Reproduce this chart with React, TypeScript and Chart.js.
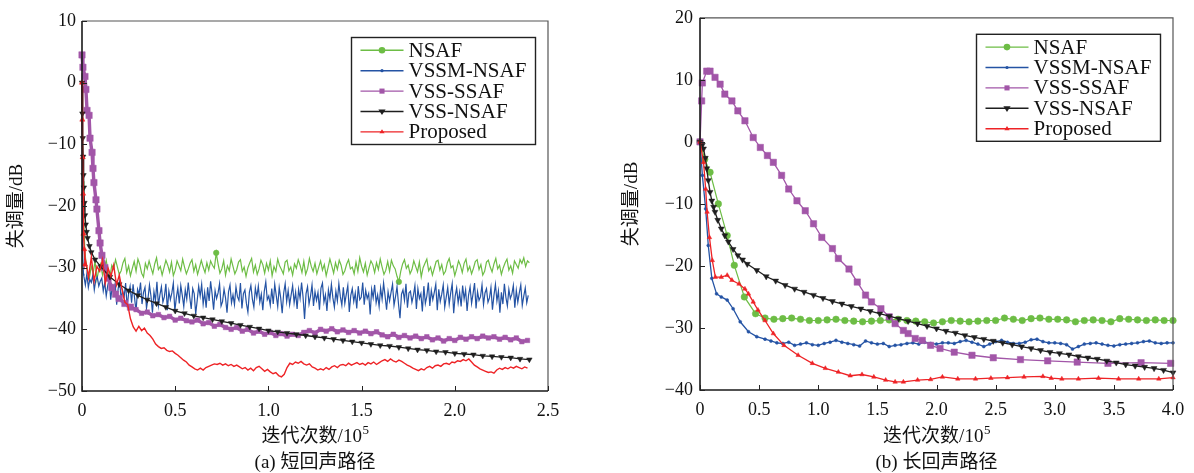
import React, { useEffect, useRef } from 'react';
import { Chart, registerables } from 'chart.js';

Chart.register(...registerables);

const SERIF = '"Liberation Serif", "DejaVu Serif", serif';
const MIXED = '"Liberation Serif", "Noto Sans CJK SC", serif';

const seriesLabels = ['NSAF', 'VSSM-NSAF', 'VSS-SSAF', 'VSS-NSAF', 'Proposed'];
const seriesColors = ['#6dbd45', '#2453a4', '#a256a8', '#1e1e1e', '#ee2326'];

// ---------------- (a) short echo path ----------------
const aXTicks = [0, 0.5, 1, 1.5, 2, 2.5];
const aXTickLabels = ['0', '0.5', '1.0', '1.5', '2.0', '2.5'];
const aYTicks = [-50, -40, -30, -20, -10, 0, 10];
const aYTickLabels = ['−50', '−40', '−30', '−20', '−10', '0', '10'];

const aGreenHeadX = [0, 0.003, 0.006, 0.01, 0.015, 0.02];
const aGreenHeadY = [0, -8, -16, -23, -27, -28.8];
const aGreenStart = 0.03;
const aGreenStep = 0.01;
const aGreenY = [
  -30.4, -31.6, -29.8, -30.9, -28.9, -31.9, -30.3, -29.4, -31.2, -30.0, -28.8, -30.7, -31.4, -29.6,
  -30.2, -28.7, -29.9, -31.1, -30.5, -29.2, -28.5, -30.8, -29.7, -31.3, -30.1, -29.0, -30.6, -28.6,
  -29.5, -30.9, -31.5, -29.3, -30.2, -28.9, -30.0, -31.0, -29.4, -28.4, -30.3, -29.8, -31.2, -30.0,
  -28.8, -29.6, -30.7, -29.1, -31.3, -30.4, -28.9, -29.7, -30.5, -28.6, -29.9, -31.0, -30.2, -29.3,
  -28.7, -30.6, -29.5, -31.1, -30.0, -28.8, -29.9, -30.8, -29.2, -30.4, -28.9, -29.6, -30.1, -27.6,
  -29.4, -30.9, -30.2, -28.9, -31.2, -29.7, -30.5, -28.6, -29.8, -31.0, -30.3, -29.1, -28.7, -30.6,
  -29.9, -31.4, -30.0, -29.2, -28.5, -30.7, -29.6, -31.1, -30.2, -28.8, -29.5, -30.9, -29.3, -30.4,
  -28.9, -31.3, -29.8, -30.6, -28.6, -29.7, -30.3, -31.0, -29.1, -28.8, -30.5, -29.9, -31.2, -29.4,
  -30.1, -28.7, -29.6, -30.8, -29.0, -31.1, -30.2, -28.5, -29.8, -30.6, -29.3, -31.0, -29.9, -28.9,
  -30.4, -29.5, -31.3, -30.0, -28.6, -29.7, -30.9, -29.2, -30.3, -28.8, -29.6, -31.1, -30.5, -29.4,
  -28.7, -30.2, -29.9, -31.0, -29.1, -30.6, -28.4, -29.8, -30.7, -29.3, -31.2, -30.0, -28.9, -29.5,
  -30.8, -29.2, -30.3, -28.6, -29.9, -31.1, -30.4, -29.0, -30.6, -28.8, -29.7, -30.2, -31.4, -32.3,
  -30.6, -29.4, -28.7, -30.1, -29.6, -31.0, -30.3, -28.9, -29.8, -30.7, -29.1, -31.5, -30.0, -29.3,
  -28.6, -30.5, -29.9, -31.2, -30.1, -29.0, -28.8, -30.4, -29.5, -31.1, -30.6, -29.2, -28.5, -30.0,
  -29.7, -31.3, -30.2, -28.9, -29.6, -30.8, -29.3, -28.6, -30.5, -29.8, -31.0, -30.1, -29.0, -28.7,
  -30.3, -29.5, -31.2, -30.6, -29.1, -28.8, -29.9, -30.7, -29.4, -28.5, -30.2, -29.6, -31.1, -30.0,
  -29.2, -28.6, -30.4, -29.7, -30.9, -28.9, -29.5, -30.1, -28.7, -29.3, -28.4, -29.8, -28.9, -29.2,
];
const aGreenMarkIdx = [75, 173];

const aBlueHeadX = [0, 0.002, 0.005, 0.008];
const aBlueHeadY = [0, -15, -28, -31];
const aBlueStart = 0.01;
const aBlueStep = 0.008;
const aBlueY = [
  -31.4, -32.8, -31.0, -33.2, -31.9, -32.4, -31.2, -33.6, -32.0, -31.5, -33.0, -32.2, -31.7,
  -33.8, -32.4, -34.6, -32.9, -31.8, -35.2, -33.1, -34.0, -32.6, -36.0, -33.4, -32.2, -35.1,
  -33.7, -34.8, -32.5, -36.4, -34.2, -33.0, -35.7, -32.7, -34.9, -37.1, -33.5, -34.3, -32.4,
  -35.9, -34.0, -33.2, -36.6, -35.0, -32.8, -34.6, -37.3, -33.9, -35.4, -32.3, -36.1, -34.4,
  -33.1, -35.6, -34.7, -32.6, -36.9, -33.8, -35.2, -34.1, -32.5, -37.0, -34.9, -33.3, -35.8,
  -32.9, -34.5, -36.3, -33.6, -35.1, -32.4, -34.8, -36.7, -33.4, -34.2, -37.5, -35.3, -33.0,
  -34.6, -32.7, -35.9, -34.0, -36.5, -33.2, -35.4, -32.2, -34.3, -36.8, -33.7, -35.0, -34.1,
  -32.6, -36.2, -35.5, -33.5, -34.9, -37.3, -33.9, -32.8, -35.7, -34.4, -36.0, -33.1, -34.7,
  -35.3, -32.5, -36.6, -34.2, -33.6, -35.8, -37.2, -34.0, -32.9, -35.1, -36.4, -33.3, -34.8,
  -33.0, -35.6, -34.3, -36.9, -33.8, -32.3, -35.2, -34.6, -36.1, -33.4, -35.9, -32.7, -34.5,
  -36.3, -33.2, -34.9, -37.4, -34.1, -32.6, -35.5, -33.7, -36.0, -34.4, -32.9, -35.7, -34.0,
  -36.7, -33.5, -35.0, -32.4, -34.8, -38.3, -34.2, -33.1, -35.9, -34.6, -32.8, -36.2, -33.9,
  -35.3, -34.0, -36.8, -33.3, -32.5, -35.6, -34.4, -37.0, -33.6, -35.1, -32.7, -34.9, -36.4,
  -33.8, -35.4, -32.6, -34.7, -36.1, -33.2, -35.8, -34.3, -32.9, -37.2, -34.5, -33.4, -35.5,
  -34.1, -36.6, -33.0, -35.2, -34.8, -32.4, -36.0, -33.7, -35.0, -34.2, -37.6, -33.5, -34.9,
  -32.8, -35.7, -34.4, -36.3, -33.3, -35.1, -32.5, -34.6, -36.8, -33.9, -35.4, -34.0, -32.7,
  -36.1, -34.7, -33.1, -35.9, -38.2, -34.3, -33.6, -35.3, -32.6, -36.5, -34.1, -33.8, -35.6,
  -34.5, -32.9, -36.7, -33.4, -35.0, -34.2, -37.1, -33.0, -35.8, -34.6, -32.4, -36.2, -33.7,
  -35.2, -34.0, -32.7, -36.9, -33.5, -35.5, -34.3, -32.8, -36.4, -34.8, -33.2, -35.9, -34.1,
  -32.6, -37.4, -34.6, -33.3, -35.7, -34.0, -36.3, -32.9, -35.1, -33.6, -37.0, -34.4, -33.1,
  -35.8, -34.2, -32.5, -36.6, -33.9, -35.3, -34.7, -32.8, -36.0, -34.1, -33.4, -35.6, -34.9,
  -33.2, -36.8, -34.5, -32.7, -35.4, -33.8, -37.3, -34.0, -35.9, -32.6, -34.8, -36.2, -33.5,
  -35.0, -34.3, -32.9, -36.5, -33.7, -35.6, -34.1, -32.8, -36.1, -34.6, -33.3, -35.7, -34.5,
];

const aPurpleHeadX = [0, 0.005, 0.016, 0.021, 0.027, 0.038, 0.043, 0.054, 0.059, 0.064, 0.075, 0.08, 0.091, 0.097, 0.107, 0.123, 0.14, 0.16, 0.18, 0.2, 0.23, 0.26];
const aPurpleHeadY = [4.5, 2.5, 1.0, -1.1, -4.5, -5.3, -9, -11.3, -13.9, -16.2, -19, -20.5, -24, -26, -28, -30, -31.7, -33.2, -34.3, -35.0, -35.8, -36.4];
const aPurpleStart = 0.29;
const aPurpleStep = 0.03;
const aPurpleY = [
  -36.8, -37.4, -37.2, -37.8, -37.6, -38.1, -37.9, -38.5, -38.2, -38.6,
  -38.8, -38.5, -39.1, -38.9, -39.5, -39.2, -39.7, -40.0, -39.7, -40.3,
  -40.0, -40.6, -40.3, -40.8, -40.5, -41.0, -40.7, -41.1, -40.8, -41.0,
  -40.5, -40.2, -40.6, -40.0, -40.3, -39.9, -40.4, -40.1, -40.5, -40.2,
  -40.6, -40.3, -40.7, -40.4, -40.9, -41.2, -40.8, -41.3, -41.0, -41.4,
  -41.1, -41.5, -41.2, -41.7, -41.4, -41.9, -41.5, -41.8, -41.3, -41.6,
  -41.2, -41.5, -41.1, -41.4, -41.2, -41.6, -41.3, -41.7, -41.4, -42.0, -41.8,
];

const aBlackX = [0, 0.002, 0.004, 0.006, 0.008, 0.01, 0.013, 0.016, 0.02, 0.025, 0.03, 0.04, 0.05, 0.07, 0.1, 0.15, 0.2, 0.25, 0.3, 0.35, 0.4, 0.45, 0.5, 0.55, 0.6, 0.65, 0.7, 0.75, 0.8, 0.85, 0.9, 0.95, 1.0, 1.05, 1.1, 1.15, 1.2, 1.25, 1.3, 1.35, 1.4, 1.45, 1.5, 1.55, 1.6, 1.65, 1.7, 1.75, 1.8, 1.85, 1.9, 1.95, 2.0, 2.05, 2.1, 2.15, 2.2, 2.25, 2.3, 2.35, 2.4];
const aBlackY = [0, -5, -9, -12, -15, -17, -19.5, -21.5, -23, -24.2, -25.2, -26.5, -27.5, -28.7, -29.8, -31.5, -32.7, -33.7, -34.5, -35.2, -35.8, -36.4, -37.0, -37.4, -37.8, -38.1, -38.4, -38.7, -39.0, -39.3, -39.6, -39.9, -40.2, -40.4, -40.6, -40.8, -41.0, -41.2, -41.4, -41.6, -41.8, -42.0, -42.2, -42.4, -42.6, -42.7, -42.9, -43.1, -43.3, -43.4, -43.6, -43.7, -43.9, -44.0, -44.1, -44.3, -44.4, -44.5, -44.6, -44.8, -44.9];

const aRedHeadX = [0, 0.002, 0.004, 0.006, 0.008, 0.012, 0.016];
const aRedHeadY = [0, -6, -12.1, -18, -24.5, -27, -29.5];
const aRedStart = 0.02;
const aRedStep = 0.015;
const aRedY = [
  -29.0, -31.6, -28.3, -32.2, -29.8, -30.6, -28.7, -32.5, -30.1, -31.4, -29.6, -32.8, -31.2, -33.6,
  -35.6, -36.0, -38.3, -39.6,
  -40.3, -39.5, -40.2, -39.8, -40.6, -41.0, -41.6, -42.4, -42.8, -43.1,
  -43.0, -43.4, -43.6, -43.5, -43.9, -44.2, -44.6, -45.0, -45.3, -45.8,
  -46.1, -46.4, -46.6, -46.3, -46.6, -46.2, -46.0, -45.8, -45.6, -45.7,
  -45.5, -45.8, -45.6, -45.9, -45.7, -46.0, -45.8, -46.1, -46.4, -46.2,
  -46.6, -46.3, -46.7, -46.2, -46.0, -46.4, -46.8, -46.5, -46.9, -47.2,
  -47.0, -47.5, -47.7, -47.3, -46.2, -45.5, -45.7, -45.3, -45.5, -45.2,
  -45.6, -45.8, -45.6, -46.1, -46.3, -46.6, -46.4, -46.6, -46.2, -46.5,
  -46.1, -45.9, -46.2, -45.8, -45.7, -45.9, -45.5, -45.8, -45.6, -45.4,
  -45.7, -45.5, -45.8, -45.4, -45.6, -45.3, -45.7, -45.4, -45.1, -44.9,
  -45.2, -44.8, -45.1, -45.3, -45.0, -45.2, -45.5, -45.8, -46.0, -46.3,
  -46.5, -46.7, -46.4, -46.6, -46.2, -46.0, -46.3, -45.9, -45.8, -46.0,
  -45.6, -45.5, -45.7, -45.3, -45.4, -45.1, -45.2, -44.9, -45.1, -44.8,
  -45.3, -45.8, -46.1, -46.4, -46.6, -46.8, -47.0, -46.9, -47.1, -46.6,
  -46.3, -46.5, -46.2, -46.4, -46.1, -46.3, -46.0, -46.2, -46.4, -46.1,
  -46.3,
];

// ---------------- (b) long echo path ----------------
const bXTicks = [0, 0.5, 1, 1.5, 2, 2.5, 3, 3.5, 4];
const bXTickLabels = ['0', '0.5', '1.0', '1.5', '2.0', '2.5', '3.0', '3.5', '4.0'];
const bYTicks = [-40, -30, -20, -10, 0, 10, 20];
const bYTickLabels = ['−40', '−30', '−20', '−10', '0', '10', '20'];

const bGreenHeadX = [0, 0.04, 0.085, 0.155, 0.23, 0.29, 0.375, 0.47];
const bGreenHeadY = [0, -2.8, -4.9, -10, -15.1, -19.9, -25, -27.7];
const bGreenStart = 0.55;
const bGreenStep = 0.075;
const bGreenY = [
  -28.4, -28.6, -28.5, -28.4, -28.6, -28.8, -28.8, -28.7, -28.6, -28.8,
  -28.9, -29.0, -28.9, -28.8, -28.7, -28.6, -28.8, -28.9, -29.0, -29.2,
  -29.0, -28.8, -28.9, -29.0, -28.9, -28.8, -28.8, -28.4, -28.6, -28.8,
  -28.5, -28.4, -28.6, -28.6, -28.7, -29.0, -28.8, -28.7, -28.8, -29.0,
  -28.5, -28.6, -28.7, -28.8, -28.7, -28.8, -28.8,
];

const bBlueHeadX = [0, 0.02, 0.048, 0.07, 0.1, 0.14, 0.18, 0.23, 0.28, 0.34, 0.41, 0.48, 0.55];
const bBlueHeadY = [0, -5.4, -10.8, -16.7, -22, -24.5, -25.0, -25.5, -26.9, -29, -30.6, -31.4, -31.8];
const bBlueStart = 0.6;
const bBlueStep = 0.05;
const bBlueY = [
  -32.1, -32.4, -32.5, -32.3, -32.8, -32.6, -32.4, -32.7, -32.8, -32.5,
  -32.3, -32.0, -32.3, -32.5, -32.7, -32.9, -32.1, -32.4, -32.6, -32.5,
  -33.0, -32.8, -32.7, -32.5, -32.4, -32.6, -32.3, -32.5, -32.6, -32.4,
  -32.4, -32.5, -32.2, -32.0, -32.3, -32.6, -33.0, -32.6, -32.2, -32.0,
  -32.3, -32.5, -32.5, -32.3, -31.9, -31.8, -32.2, -32.4, -32.4, -32.5,
  -32.7, -33.4, -33.0, -32.6, -32.5, -32.4, -32.6, -32.8, -32.9, -32.7,
  -32.6, -32.5, -32.4, -32.2, -32.1, -32.4, -32.5, -32.4, -32.4,
];

const bPurpleX = [0, 0.014, 0.02, 0.057, 0.085, 0.127, 0.17, 0.21, 0.27, 0.32, 0.38, 0.45, 0.51, 0.57, 0.62, 0.69, 0.75, 0.82, 0.89, 0.96, 1.03, 1.12, 1.17, 1.26, 1.33, 1.4, 1.45, 1.53, 1.6, 1.65, 1.72, 1.76, 1.82, 1.88, 1.95, 2.03, 2.15, 2.3, 2.48, 2.71, 2.94, 3.19, 3.45, 3.73, 3.98];
const bPurpleY = [0, 6.6, 9.5, 11.4, 11.4, 10.4, 9.3, 7.7, 6.6, 5.0, 3.4, 0.7, -0.9, -2.2, -3.3, -5.4, -7.6, -9.5, -11.1, -13.2, -15.4, -17.2, -18.8, -20.5, -22.6, -24.7, -25.8, -26.9, -28.2, -29.3, -30.4, -30.9, -31.7, -32.0, -32.8, -33.3, -33.9, -34.4, -34.8, -35.1, -35.3, -35.5, -35.7, -35.6, -35.7];

const bBlackHeadX = [0, 0.02, 0.03, 0.045, 0.057, 0.07, 0.085, 0.1, 0.115, 0.127, 0.15, 0.18, 0.21, 0.24, 0.28, 0.32, 0.36];
const bBlackHeadY = [0, -0.5, -1.1, -2.6, -4.3, -6.2, -8.1, -9.5, -10.5, -11.3, -12.6, -14, -15.1, -16.1, -17.3, -18.3, -19.0];
const bBlackStart = 0.4;
const bBlackStep = 0.08;
const bBlackY = [
  -19.7, -20.7, -21.7, -22.4, -23.1, -23.7, -24.2, -24.7, -25.2, -25.7,
  -26.1, -26.5, -26.9, -27.3, -27.7, -28.1, -28.5, -28.9, -29.3, -29.7,
  -30.1, -30.5, -30.8, -31.2, -31.5, -31.8, -32.1, -32.4, -32.7, -33.0,
  -33.3, -33.6, -33.9, -34.1, -34.3, -34.6, -34.8, -35.0, -35.3, -35.6,
  -35.9, -36.1, -36.3, -36.5, -36.8, -37.2,
];

const bRedX = [0, 0.03, 0.048, 0.06, 0.08, 0.104, 0.13, 0.18, 0.23, 0.27, 0.33, 0.38, 0.41, 0.45, 0.49, 0.55, 0.62, 0.71, 0.83, 0.95, 1.06, 1.17, 1.27, 1.37, 1.47, 1.57, 1.65, 1.72, 1.84, 1.95, 2.05, 2.18, 2.33, 2.46, 2.6, 2.74, 2.9, 2.97, 3.06, 3.2, 3.37, 3.54, 3.71, 3.88, 4.0];
const bRedY = [0, -3.3, -7.6, -11.3, -15.4, -19.1, -21.8, -21.8, -21.5, -22.3, -22.9, -23.7, -24.5, -25.8, -27.1, -28.8, -30.9, -32.8, -34.4, -35.7, -36.5, -37.1, -37.7, -37.5, -37.9, -38.4, -38.7, -38.7, -38.4, -38.3, -37.9, -38.2, -38.2, -38.1, -38.0, -37.9, -37.8, -38.1, -38.2, -38.2, -38.1, -38.2, -38.2, -38.2, -38.0];

// ---------------- helpers ----------------
const stepXs = (start: number, step: number, n: number) =>
  Array.from({ length: n }, (_, i) => Math.round((start + step * i) * 10000) / 10000);
const toPts = (xs: number[], ys: number[]) => xs.map((x, i) => ({ x, y: ys[i] }));
const joinPts = (hx: number[], hy: number[], start: number, step: number, ys: number[]) =>
  toPts(hx, hy).concat(toPts(stepXs(start, step, ys.length), ys));

type Marker = { style: string; r: number; rot: number };
const markerSpecs: Marker[] = [
  { style: 'circle', r: 3.3, rot: 0 },
  { style: 'circle', r: 1.6, rot: 0 },
  { style: 'rect', r: 4.5, rot: 0 },
  { style: 'triangle', r: 3.6, rot: 180 },
  { style: 'triangle', r: 2.6, rot: 0 },
];
const drawOrder = [5, 4, 3, 2, 1];

function makeDataset(idx: number, pts: any[], radius: (i: number) => number, width: number) {
  const m = markerSpecs[idx];
  return {
    label: seriesLabels[idx],
    data: pts,
    borderColor: seriesColors[idx],
    backgroundColor: seriesColors[idx],
    borderWidth: width,
    pointStyle: m.style,
    pointRotation: m.rot,
    pointBorderWidth: 0.5,
    pointBorderColor: seriesColors[idx],
    pointRadius: (c: any) => radius(c.dataIndex),
    order: drawOrder[idx],
    clip: false,
    tension: 0,
  };
}

function drawMarker(ctx: CanvasRenderingContext2D, m: Marker, x: number, y: number, color: string) {
  ctx.fillStyle = color;
  ctx.beginPath();
  if (m.style === 'circle') {
    ctx.arc(x, y, m.r, 0, Math.PI * 2);
  } else if (m.style === 'rect') {
    const s = m.r * Math.SQRT1_2;
    ctx.rect(x - s, y - s, 2 * s, 2 * s);
  } else {
    const r = m.r;
    if (m.rot === 180) {
      ctx.moveTo(x - r, y - r * 0.55);
      ctx.lineTo(x + r, y - r * 0.55);
      ctx.lineTo(x, y + r);
    } else {
      ctx.moveTo(x - r, y + r * 0.55);
      ctx.lineTo(x + r, y + r * 0.55);
      ctx.lineTo(x, y - r);
    }
    ctx.closePath();
  }
  ctx.fill();
}

type PanelSpec = {
  width: number;
  height: number;
  area: { left: number; top: number; right: number; bottom: number };
  xMax: number;
  xTicks: number[];
  xTickLabels: string[];
  yMin: number;
  yMax: number;
  yTicks: number[];
  yTickLabels: string[];
  yTickPad: number;
  datasets: any[];
  yTitleX: number;
  caption: string;
};

const panelA: PanelSpec = {
  width: 597,
  height: 473,
  area: { left: 82, top: 21, right: 548, bottom: 391 },
  xMax: 2.5,
  xTicks: aXTicks,
  xTickLabels: aXTickLabels,
  yMin: -50,
  yMax: 10,
  yTicks: aYTicks,
  yTickLabels: aYTickLabels,
  yTickPad: 6,
  yTitleX: 17,
  caption: '(a) 短回声路径',
  datasets: [
    makeDataset(0, joinPts(aGreenHeadX, aGreenHeadY, aGreenStart, aGreenStep, aGreenY), (i) => (aGreenMarkIdx.includes(i) ? 2.8 : 0), 1.2),
    makeDataset(1, joinPts(aBlueHeadX, aBlueHeadY, aBlueStart, aBlueStep, aBlueY), () => 0, 1.2),
    makeDataset(2, joinPts(aPurpleHeadX, aPurpleHeadY, aPurpleStart, aPurpleStep, aPurpleY), (i) => (i < 22 ? 4.5 : 3.2), 3.4),
    makeDataset(3, toPts(aBlackX, aBlackY), () => 3.2, 1.3),
    makeDataset(4, joinPts(aRedHeadX, aRedHeadY, aRedStart, aRedStep, aRedY), (i) => (i < 7 ? 3 : 0), 1.4),
  ],
};

const panelB: PanelSpec = {
  width: 597,
  height: 473,
  area: { left: 103, top: 17, right: 576, bottom: 390 },
  xMax: 4,
  xTicks: bXTicks,
  xTickLabels: bXTickLabels,
  yMin: -40,
  yMax: 20,
  yTicks: bYTicks,
  yTickLabels: bYTickLabels,
  yTickPad: 7,
  yTitleX: 35,
  caption: '(b) 长回声路径',
  datasets: [
    makeDataset(0, joinPts(bGreenHeadX, bGreenHeadY, bGreenStart, bGreenStep, bGreenY), () => 3.3, 1.2),
    makeDataset(1, joinPts(bBlueHeadX, bBlueHeadY, bBlueStart, bBlueStep, bBlueY), () => 1.5, 1.3),
    makeDataset(2, toPts(bPurpleX, bPurpleY), () => 4.5, 1.3),
    makeDataset(3, joinPts(bBlackHeadX, bBlackHeadY, bBlackStart, bBlackStep, bBlackY), () => 3.4, 1.3),
    makeDataset(4, toPts(bRedX, bRedY), () => 2.6, 1.3),
  ],
};

function makeDecorPlugin(spec: PanelSpec) {
  return {
    id: 'decor',
    afterDatasetsDraw(chart: any) {
      const ctx: CanvasRenderingContext2D = chart.ctx;
      const ca = chart.chartArea;
      ctx.save();
      ctx.strokeStyle = '#555';
      ctx.lineWidth = 1.2;
      ctx.beginPath();
      ctx.moveTo(ca.left, ca.top);
      ctx.lineTo(ca.right, ca.top);
      ctx.lineTo(ca.right, ca.bottom);
      ctx.stroke();
      ctx.strokeStyle = '#1a1a1a';
      ctx.lineWidth = 1.6;
      ctx.beginPath();
      ctx.moveTo(ca.left, ca.top);
      ctx.lineTo(ca.left, ca.bottom);
      ctx.lineTo(ca.right, ca.bottom);
      ctx.stroke();
      ctx.lineWidth = 1;
      ctx.strokeStyle = '#222';
      const xs = chart.scales.x;
      const ys = chart.scales.y;
      ctx.beginPath();
      spec.xTicks.forEach((v) => {
        const px = Math.round(xs.getPixelForValue(v)) + 0.5;
        ctx.moveTo(px, ca.bottom);
        ctx.lineTo(px, ca.bottom - 5);
      });
      spec.yTicks.forEach((v) => {
        const py = Math.round(ys.getPixelForValue(v)) + 0.5;
        ctx.moveTo(ca.left, py);
        ctx.lineTo(ca.left + 5, py);
      });
      ctx.stroke();
      ctx.restore();
    },
    afterDraw(chart: any) {
      const ctx: CanvasRenderingContext2D = chart.ctx;
      const ca = chart.chartArea;
      ctx.save();
      const bw = 184;
      const bh = 107;
      const bx = ca.right - 12.5 - bw;
      const by = ca.top + 16.5;
      ctx.fillStyle = '#fff';
      ctx.fillRect(bx, by, bw, bh);
      ctx.strokeStyle = '#222';
      ctx.lineWidth = 1.4;
      ctx.strokeRect(bx, by, bw, bh);
      ctx.font = '21px ' + SERIF;
      ctx.textBaseline = 'middle';
      ctx.textAlign = 'left';
      seriesLabels.forEach((lab, i) => {
        const cy = by + 12.8 + i * 20.4;
        const col = seriesColors[i];
        ctx.strokeStyle = col;
        ctx.lineWidth = 1.4;
        ctx.beginPath();
        ctx.moveTo(bx + 9, cy);
        ctx.lineTo(bx + 52, cy);
        ctx.stroke();
        const m = markerSpecs[i];
        drawMarker(ctx, { ...m, r: Math.min(m.r, 3.6) }, bx + 30.5, cy, col);
        ctx.fillStyle = '#111';
        ctx.fillText(lab, bx + 57, cy + 1);
      });
      ctx.fillStyle = '#111';
      ctx.font = '19px ' + MIXED;
      ctx.save();
      ctx.translate(spec.yTitleX, (ca.top + ca.bottom) / 2);
      ctx.rotate(-Math.PI / 2);
      ctx.textAlign = 'center';
      ctx.textBaseline = 'middle';
      ctx.fillText('失调量/dB', 0, 0);
      ctx.restore();
      const cx = (ca.left + ca.right) / 2;
      const main = '迭代次数/10';
      const sup = '5';
      ctx.font = '19px ' + MIXED;
      const wMain = ctx.measureText(main).width;
      ctx.font = '13px ' + SERIF;
      const wSup = ctx.measureText(sup).width;
      const x0 = cx - (wMain + wSup) / 2;
      ctx.textAlign = 'left';
      ctx.textBaseline = 'alphabetic';
      ctx.font = '19px ' + MIXED;
      ctx.fillText(main, x0, 442);
      ctx.font = '13px ' + SERIF;
      ctx.fillText(sup, x0 + wMain + 0.5, 434);
      ctx.font = '19px ' + MIXED;
      ctx.textAlign = 'center';
      ctx.fillText(spec.caption, cx, 468);
      ctx.restore();
    },
  };
}

function ChartPanel({ spec }: { spec: PanelSpec }) {
  const ref = useRef<HTMLCanvasElement | null>(null);
  useEffect(() => {
    if (!ref.current) return;
    const a = spec.area;
    const chart = new Chart(ref.current, {
      type: 'line',
      data: { datasets: spec.datasets },
      options: {
        animation: false,
        responsive: false,
        devicePixelRatio: 1,
        layout: { padding: { left: 0, top: a.top, right: spec.width - a.right, bottom: 0 } },
        plugins: { legend: { display: false }, tooltip: { enabled: false } },
        scales: {
          x: {
            type: 'linear',
            position: 'bottom',
            min: 0,
            max: spec.xMax,
            grid: { display: false, drawTicks: false },
            border: { display: false },
            afterBuildTicks: (s: any) => {
              s.ticks = spec.xTicks.map((v) => ({ value: v }));
            },
            ticks: {
              autoSkip: false,
              maxRotation: 0,
              padding: 9,
              color: '#111',
              font: { family: SERIF, size: 18 },
              callback: (_v: any, i: number) => spec.xTickLabels[i],
            },
            afterFit: (s: any) => {
              s.height = spec.height - a.bottom;
            },
          },
          y: {
            type: 'linear',
            position: 'left',
            min: spec.yMin,
            max: spec.yMax,
            grid: { display: false, drawTicks: false },
            border: { display: false },
            afterBuildTicks: (s: any) => {
              s.ticks = spec.yTicks.map((v) => ({ value: v }));
            },
            ticks: {
              autoSkip: false,
              padding: spec.yTickPad,
              color: '#111',
              font: { family: SERIF, size: 18 },
              callback: (_v: any, i: number) => spec.yTickLabels[i],
            },
            afterFit: (s: any) => {
              s.width = a.left;
            },
          },
        },
      } as any,
      plugins: [makeDecorPlugin(spec)],
    });
    return () => chart.destroy();
  }, [spec]);
  return <canvas ref={ref} width={spec.width} height={spec.height} style={{ display: 'block' }} />;
}

export default function App() {
  return (
    <div style={{ position: 'absolute', left: 0, top: 0, width: 1194, height: 473, background: '#fff', overflow: 'hidden' }}>
      <div style={{ position: 'absolute', left: 0, top: 0, width: 597, height: 473 }}>
        <ChartPanel spec={panelA} />
      </div>
      <div style={{ position: 'absolute', left: 597, top: 0, width: 597, height: 473 }}>
        <ChartPanel spec={panelB} />
      </div>
    </div>
  );
}
